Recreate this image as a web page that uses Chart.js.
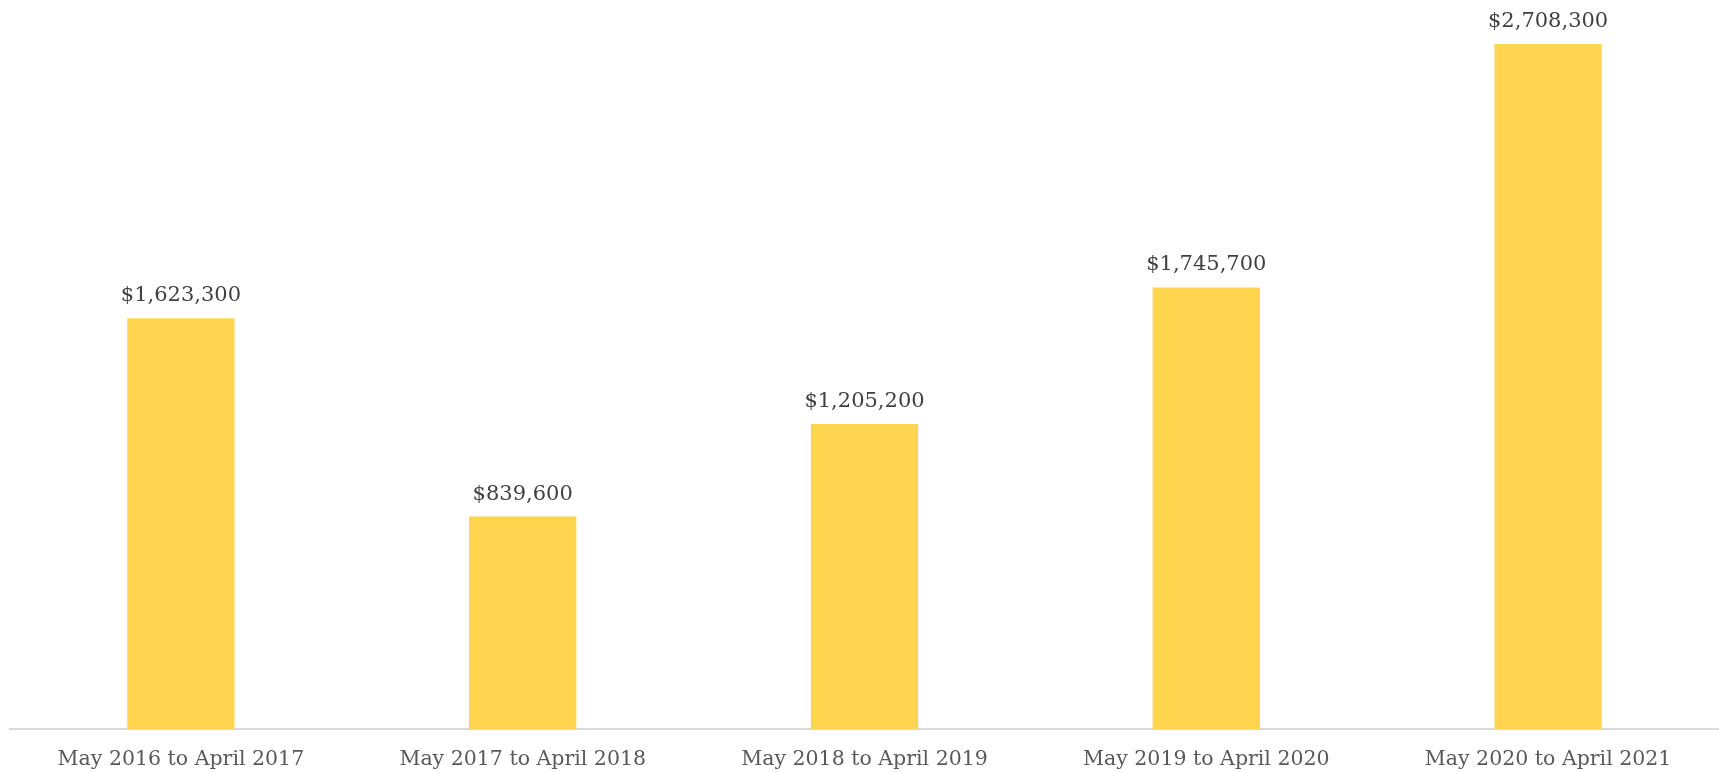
<!DOCTYPE html>
<html>
<head>
<meta charset="utf-8">
<script src="https://cdn.jsdelivr.net/npm/chart.js@4.4.1/dist/chart.umd.min.js"></script>
<style>
  html, body { margin: 0; padding: 0; background: #fff; }
  #wrap { width: 1719px; height: 773px; }
</style>
</head>
<body>
<div id="wrap"><canvas id="sales"></canvas></div>
<script>
const periods = [
  "May 2016 to April 2017",
  "May 2017 to April 2018",
  "May 2018 to April 2019",
  "May 2019 to April 2020",
  "May 2020 to April 2021",
];
const totals = [1623300, 839600, 1205200, 1745700, 2708300];

const FONT = "'DejaVu Serif', 'Liberation Serif', serif";

const money = (v) => "$" + v.toLocaleString("en-US");

// writes the dollar amount above each bar
const barLabels = {
  id: "barLabels",
  afterDatasetsDraw(chart) {
    const ctx = chart.ctx;
    const meta = chart.getDatasetMeta(0);
    ctx.save();
    ctx.font = "21px " + FONT;
    ctx.fillStyle = "#404040";
    ctx.textAlign = "center";
    ctx.textBaseline = "bottom";
    meta.data.forEach((bar, i) => {
      ctx.fillText(money(totals[i]), bar.x, bar.y - 12);
    });
    ctx.restore();
  },
};

new Chart(document.getElementById("sales"), {
  type: "bar",
  data: {
    labels: periods,
    datasets: [
      {
        data: totals,
        backgroundColor: "#FFD54F",
        categoryPercentage: 1,
        barPercentage: 0.314,
      },
    ],
  },
  options: {
    responsive: true,
    maintainAspectRatio: false,
    animation: false,
    layout: { padding: { left: 10, right: 0, top: 0, bottom: -16.5 } },
    plugins: {
      legend: { display: false },
      tooltip: { enabled: false },
    },
    scales: {
      x: {
        grid: { display: false, drawTicks: false },
        border: { color: "#D9D9D9", width: 2 },
        ticks: {
          color: "#595959",
          padding: 18,
          font: { family: FONT, size: 20.5 },
          maxRotation: 0,
        },
      },
      y: {
        display: false,
        min: 0,
        max: 2882000,
      },
    },
  },
  plugins: [barLabels],
});
</script>
</body>
</html>
